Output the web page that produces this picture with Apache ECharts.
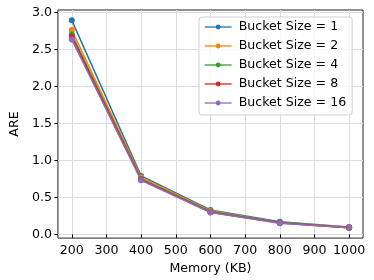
<!DOCTYPE html>
<html>
<head>
<meta charset="utf-8">
<script src="https://cdn.jsdelivr.net/npm/echarts@6/dist/echarts.min.js"></script>
<style>html,body{margin:0;padding:0;background:#fff}#c{width:374px;height:280px}</style>
</head>
<body>
<div id="c"></div>
<script>
const memory = [200, 400, 600, 800, 1000];
const bucket1 = [2.89, 0.79, 0.33, 0.17, 0.10];
const bucket2 = [2.76, 0.77, 0.32, 0.16, 0.095];
const bucket4 = [2.70, 0.75, 0.31, 0.16, 0.09];
const bucket8 = [2.67, 0.74, 0.30, 0.155, 0.09];
const bucket16 = [2.63, 0.73, 0.295, 0.15, 0.09];
const seriesNames = ['Bucket Size = 1', 'Bucket Size = 2', 'Bucket Size = 4', 'Bucket Size = 8', 'Bucket Size = 16'];
const xTicks = [200, 300, 400, 500, 600, 700, 800, 900, 1000];
const yTicks = [0.0, 0.5, 1.0, 1.5, 2.0, 2.5, 3.0];

const colors = ['#1f77b4', '#ff7f0e', '#2ca02c', '#d62728', '#9467bd'];
const allData = [bucket1, bucket2, bucket4, bucket8, bucket16];
const font = 'DejaVu Sans';
const fs = 12.6;

const chart = echarts.init(document.getElementById('c'), null, {renderer: 'canvas'});
chart.setOption({
  animation: false,
  backgroundColor: '#fff',
  color: colors,
  grid: {left: 48, right: 11, top: 10, bottom: 41, show: true, borderColor: '#222', borderWidth: 1, backgroundColor: 'transparent'},
  legend: {
    orient: 'vertical', left: 199, top: 17,
    padding: [3, 6, 5, 5], itemGap: 5, itemWidth: 27, itemHeight: 6,
    backgroundColor: 'rgba(255,255,255,0.8)', borderColor: '#d0d0d0', borderWidth: 1, borderRadius: 3,
    lineStyle: {width: 1.3},
    textStyle: {fontFamily: font, fontSize: fs, color: '#000', lineHeight: 14, padding: [0, 0, 0, 2]},
    data: seriesNames
  },
  xAxis: {
    type: 'value', min: 160, max: 1040,
    name: 'Memory (KB)', nameLocation: 'middle', nameGap: 19,
    nameTextStyle: {fontFamily: font, fontSize: fs, color: '#000'},
    axisLine: {show: false},
    axisTick: {show: true, inside: false, length: 3.5, lineStyle: {color: '#000'}, customValues: xTicks},
    axisLabel: {fontFamily: font, fontSize: fs, color: '#000', margin: 6, customValues: xTicks, formatter: v => String(v)},
    splitLine: {show: true, lineStyle: {color: '#dcdcdc', width: 1}}
  },
  yAxis: {
    type: 'value', min: -0.05, max: 3.03,
    name: 'ARE', nameLocation: 'middle', nameGap: 30,
    nameTextStyle: {fontFamily: font, fontSize: fs, color: '#000'},
    axisLine: {show: false},
    axisTick: {show: true, inside: false, length: 3.5, lineStyle: {color: '#000'}, customValues: yTicks},
    axisLabel: {fontFamily: font, fontSize: fs, color: '#000', margin: 6, customValues: yTicks, formatter: v => v.toFixed(1)},
    splitLine: {show: true, lineStyle: {color: '#dcdcdc', width: 1}}
  },
  series: seriesNames.map((n, i) => ({
    name: n, type: 'line',
    data: memory.map((m, j) => [m, allData[i][j]]),
    symbol: 'circle', symbolSize: 6,
    lineStyle: {width: 1.5, color: colors[i]},
    itemStyle: {color: colors[i]}
  }))
});
</script>
</body>
</html>
